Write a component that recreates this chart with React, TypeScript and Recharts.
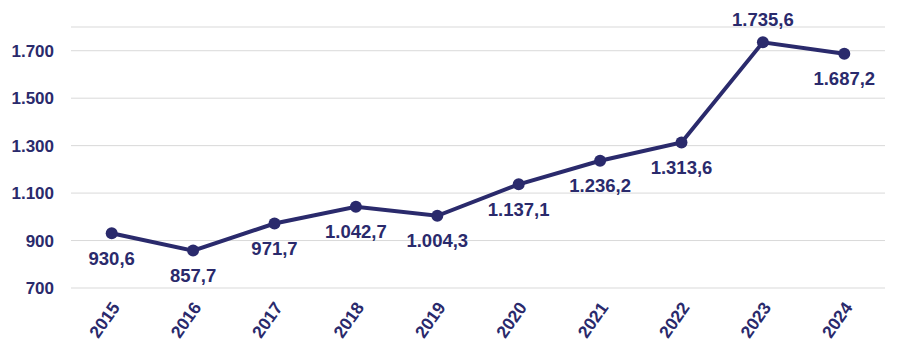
import React from 'react';
import { LineChart, Line, XAxis, YAxis, CartesianGrid, LabelList } from 'recharts';

const years = ['2015', '2016', '2017', '2018', '2019', '2020', '2021', '2022', '2023', '2024'];
const values = [930.6, 857.7, 971.7, 1042.7, 1004.3, 1137.1, 1236.2, 1313.6, 1735.6, 1687.2];
const labelsAbove = ['2023'];
const yTicks = [700, 900, 1100, 1300, 1500, 1700];

const navy = '#2a2a6c';
const font = '"Liberation Sans", Arial, sans-serif';

const data = years.map((year, i) => ({ year, value: values[i] }));

// 1.735,6 style
const fmtValue = (v: number) =>
  v.toLocaleString('de-DE', { minimumFractionDigits: 1, maximumFractionDigits: 1 });
const fmtTick = (v: number) => v.toLocaleString('de-DE');

const ValueLabel = (props: any) => {
  const { x, y, value, index } = props;
  const above = labelsAbove.includes(years[index]);
  return (
    <text
      x={x}
      y={above ? y - 23 : y + 25}
      textAnchor="middle"
      dominantBaseline="central"
      fill={navy}
      fontSize={18.5}
      fontWeight="bold"
      fontFamily={font}
    >
      {fmtValue(value)}
    </text>
  );
};

const YearTick = (props: any) => {
  const { x, y, payload } = props;
  return (
    <g transform={`translate(${x + 4},${y + 8})`}>
      <text
        x={0}
        y={0}
        textAnchor="end"
        dominantBaseline="central"
        transform="rotate(-55)"
        fill={navy}
        fontSize={17.5}
        fontWeight="bold"
        fontFamily={font}
      >
        {payload.value}
      </text>
    </g>
  );
};

export default function App() {
  return (
    <div style={{ position: 'absolute', left: 0, top: 0, width: 900, height: 354, background: '#fff' }}>
      <LineChart width={900} height={354} data={data} margin={{ top: 27, right: 15, bottom: 0, left: 0 }}>
        <CartesianGrid vertical={false} stroke="#d9d9d9" />
        <XAxis
          dataKey="year"
          scale="band"
          height={66}
          axisLine={false}
          tickLine={false}
          interval={0}
          tick={<YearTick />}
        />
        <YAxis
          width={71}
          domain={[700, 1800]}
          ticks={yTicks}
          tickFormatter={fmtTick}
          axisLine={false}
          tickLine={false}
          tickMargin={11}
          tick={{ fill: navy, fontSize: 17, fontWeight: 'bold', fontFamily: font }}
        />
        <Line
          type="linear"
          dataKey="value"
          stroke={navy}
          strokeWidth={4}
          dot={{ r: 6, fill: navy, stroke: navy, strokeWidth: 0 }}
          isAnimationActive={false}
        >
          <LabelList dataKey="value" content={<ValueLabel />} />
        </Line>
      </LineChart>
    </div>
  );
}
